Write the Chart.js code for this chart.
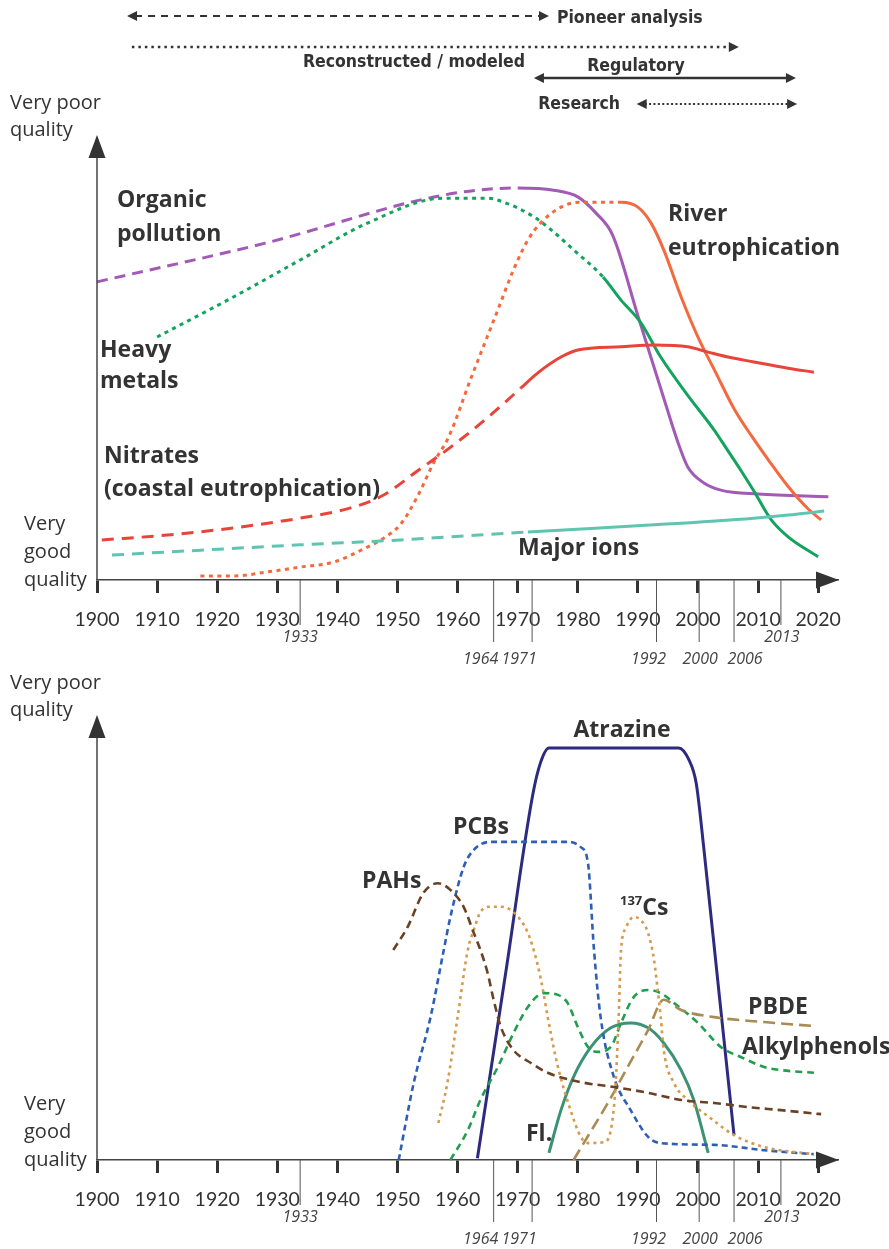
<!DOCTYPE html>
<html>
<head>
<meta charset="utf-8">
<script src="https://cdn.jsdelivr.net/npm/chart.js@4.4.0/dist/chart.umd.min.js"></script>
<style>
  html, body { margin: 0; padding: 0; background: #fff; }
  #wrap { position: relative; width: 889px; height: 1249px; overflow: hidden; }
  .box { position: absolute; left: 0; width: 889px; }
</style>
</head>
<body>
<div id="wrap">
  <div class="box" style="top:0;height:680px"><canvas id="topChart"></canvas></div>
  <div class="box" style="top:580px;height:669px"><canvas id="bottomChart"></canvas></div>
</div>
<script>
// ---------------- axis data ----------------
const tickYears = [1900, 1910, 1920, 1930, 1940, 1950, 1960, 1970, 1980, 1990, 2000, 2010, 2020];
const eventLabels = ['1933', '1964', '1971', '1992', '2000', '2006', '2013'];
const eventYears = [1933.8, 1966, 1972.4, 1993.1, 2000.2, 2006, 2013.8];

// ---------------- periods (top banner) ----------------
const periodNames = ['Pioneer analysis', 'Reconstructed / modeled', 'Regulatory', 'Research'];
const periodStart = [1905, 1905.8, 1972.7, 1989.8];
const periodEnd = [1975.2, 2006.8, 2016.3, 2016.5];

// ---------------- top chart: [year, quality index] ----------------
const organicPollution = [[1900, 67], [1928, 75.7], [1957.7, 86.5], [1970, 88.1], [1976, 87.6], [1980, 86.1],
  [1983, 82.5], [1985.8, 77.5], [1990, 59.4], [1994, 42.2], [1996.7, 30.8], [1998.3, 25.4], [2001, 21.8],
  [2003.8, 20.2], [2010, 19.3], [2021.7, 18.7]];
const heavyMetals = [[1910, 54.6], [1922.7, 63.6], [1933.8, 71.9], [1945, 80.2], [1957.7, 85.8], [1965, 85.8],
  [1967.7, 84.9], [1972.7, 81.6], [1976, 78.2], [1979.3, 74.2], [1984.2, 68.1], [1987.2, 62.9], [1990.5, 57.8],
  [1993.8, 50.1], [1998.3, 41.5], [2002.7, 33.7], [2005, 29], [2007.2, 24.5], [2009.3, 20], [2012.2, 13.5],
  [2015, 9.7], [2020, 5.2]];
const riverEutrophication = [[1917.2, 0.9], [1922.7, 0.9], [1928.3, 1.8], [1933.8, 2.9], [1939.3, 4], [1945, 7.4],
  [1947.7, 9.4], [1950.5, 12.5], [1953.3, 18.7], [1956, 26.3], [1958.5, 32.1], [1962.3, 45.6], [1966.7, 60.7],
  [1969.3, 69.7], [1971.7, 76.4], [1973.8, 80.2], [1977.2, 83.8], [1980.5, 84.9], [1987.2, 84.9], [1990, 83.8],
  [1992.2, 80.2], [1994.3, 74.2], [1997.2, 63.6], [2000, 54.6], [2003, 46.5], [2006, 38.5], [2009, 32.2],
  [2011.7, 27], [2015, 21], [2018.3, 16], [2020.5, 13.5]];
const nitrates = [[1900.8, 9], [1911.7, 10.1], [1922.7, 11.7], [1933.8, 13.9], [1942.2, 16.2], [1947.7, 19.1],
  [1953.3, 24.5], [1958.8, 29.8], [1965, 36.5], [1970.5, 43.1], [1973.3, 46.5], [1977.2, 50.1], [1980, 51.7],
  [1987.2, 52.4], [1992.7, 52.8], [1998.3, 52.4], [2001.7, 51.2], [2005, 50.1], [2009.3, 49], [2015, 47.6],
  [2019.3, 46.7]];
const majorIons = [[1902.5, 5.6], [1917.2, 6.7], [1933.8, 7.9], [1950.5, 9], [1958.8, 9.7], [1971.7, 10.8],
  [1992.7, 12.4], [2009.3, 13.9], [2015, 14.6], [2021, 15.5]];
// first measured year (solid line from here, dashed / dotted before)
const measuredSince = [1970, 1984.2, 1987.2, 1970.5, 1971.7];

// ---------------- bottom chart: micropollutants ----------------
const atrazine = [[1963.3, 0.4], [1968, 42], [1972.5, 82], [1973.8, 89.3], [1975.2, 92.6], [1996.8, 92.6],
  [1998.5, 89.9], [1999.7, 84.7], [2001, 69.7], [2003.5, 37.6], [2006, 5.6]];
const pcbs = [[1950.2, 0], [1952.7, 17.3], [1955.5, 32.1], [1957.7, 47.2], [1958.8, 54.6], [1961, 65.8],
  [1962.7, 69.7], [1965.5, 71.5], [1978.3, 71.5], [1980.5, 70.3], [1981.7, 66.7], [1982.7, 47.2],
  [1983.8, 32.1], [1986, 18.7], [1988.8, 11.2], [1991.7, 5.2], [1993.8, 3.8], [2002.7, 3.4], [2011, 2.2], [2019.3, 1.3]];
const pahs = [[1949.3, 47.2], [1951.7, 52.4], [1954.3, 60], [1956.7, 62.2], [1958.8, 60.7], [1961, 56.9],
  [1962.7, 51], [1963.8, 47.2], [1965, 42], [1966, 36], [1967.2, 29.9], [1969.3, 24.7], [1972.2, 21.8],
  [1975, 19.6], [1980.5, 17.5], [1986, 16.4], [1991.7, 15.1], [1997.2, 13.5], [2002.7, 12.8], [2008.3, 11.9],
  [2013.8, 11.2], [2020.5, 10.3]];
const cs137 = [[1956.8, 8.3], [1958.3, 17.3], [1960, 32.1], [1961.7, 47.2], [1962.7, 51.7], [1963.8, 55.7],
  [1965.5, 56.9], [1967.2, 56.9], [1969.3, 55.7], [1971.7, 51], [1973.3, 44], [1974.3, 37.5], [1975, 32.1],
  [1976.7, 20.9], [1978.8, 11.2], [1980.5, 5.2], [1981.7, 3.8], [1984.3, 4], [1985.5, 6.7], [1986.3, 17],
  [1986.8, 32.1], [1987.2, 47.2], [1988, 52.1], [1989.3, 54.6], [1990.5, 53.9], [1991.7, 51], [1992.7, 44.9],
  [1993.3, 38.2], [1993.8, 32.1], [1994.3, 24.7], [1996, 17.3], [1998.3, 13.5], [2002, 9.5], [2006, 5.6],
  [2011, 2.9], [2019.3, 1.3]];
const alkylphenols = [[1958.8, 0], [1961.7, 6.7], [1963.8, 13.5], [1966.7, 20.9], [1969.3, 28.5], [1971.7, 34.4],
  [1974.3, 37.5], [1976.7, 37.1], [1978.3, 35.3], [1980, 29.9], [1981.7, 25.4], [1983.3, 24.3], [1985.5, 25.4],
  [1987.2, 30.8], [1989.3, 36.6], [1991.7, 38.2], [1993.8, 37.5], [1996, 35.3], [2000, 30.8], [2003.8, 25.4],
  [2007.2, 23.1], [2011, 20.9], [2013.8, 20.2], [2019.3, 19.6]];
const pbde = [[1979.3, 0], [1981.7, 5.4], [1985, 12.8], [1988.3, 20.9], [1991.7, 29.2], [1994.3, 36],
  [1997.2, 33.7], [2002.7, 32.1], [2011, 31], [2019.3, 30.1]];
const fluoranthene = [[1975.2, 1.6], [1977.2, 11.2], [1979.3, 18.7], [1982.2, 25.4], [1985.5, 29.7], [1988.8, 30.8],
  [1991.7, 29.7], [1994.3, 26.3], [1997.2, 20.2], [1999.3, 13.5], [2001.7, 1.6]];

// ---------------- helpers ----------------
const DARK = '#333333';
const BOLD = 'bold 23px "Open Sans", sans-serif';
const REG = '20px "Open Sans", sans-serif';
const COND = 'bold 17.5px "DejaVu Sans Condensed", "Liberation Sans Narrow", sans-serif';

function serie(points, color, dash, width, solidFrom) {
  const ds = {
    data: points.map(p => ({ x: p[0], y: p[1] })),
    borderColor: color,
    borderWidth: width,
    pointRadius: 0,
    cubicInterpolationMode: 'monotone',
    fill: false,
    clip: false,
    borderDash: solidFrom == null ? dash : []
  };
  if (solidFrom != null) {
    ds.segment = { borderDash: c => (c.p1.parsed.x <= solidFrom + 0.01 ? dash : []) };
  }
  return ds;
}

function head(ctx, x, y, dir, len, half) {
  // filled triangle pointing in dir (+1 right, -1 left, 0 up)
  ctx.beginPath();
  if (dir === 0) {
    ctx.moveTo(x, y); ctx.lineTo(x - half, y + len); ctx.lineTo(x + half, y + len);
  } else {
    ctx.moveTo(x, y); ctx.lineTo(x - dir * len, y - half); ctx.lineTo(x - dir * len, y + half);
  }
  ctx.closePath();
  ctx.fill();
}

function text(ctx, str, x, y, font, align) {
  ctx.font = font;
  ctx.textAlign = align || 'left';
  ctx.textBaseline = 'middle';
  ctx.fillText(str, x, y);
}

// axes arrows, event years, names
const labelShift = [0, -13, -13, -8, 1, 11, 1];
const decor = {
  id: 'decor',
  afterDraw(chart, args, opts) {
    const { ctx, chartArea: a } = chart;
    const x = chart.scales.x;
    ctx.save();
    ctx.fillStyle = DARK;
    ctx.strokeStyle = '#444';
    // y axis with arrow
    ctx.lineWidth = 1.5;
    ctx.beginPath(); ctx.moveTo(a.left, a.bottom); ctx.lineTo(a.left, a.top + 12); ctx.stroke();
    head(ctx, a.left, a.top, 0, 23, 8.5);
    // x axis arrow
    head(ctx, a.right + 1, a.bottom, 1, 23, 8.5);

    // event years
    ctx.lineWidth = 1;
    ctx.strokeStyle = '#555';
    ctx.fillStyle = '#444';
    eventYears.forEach((yr, i) => {
      const px = x.getPixelForValue(yr);
      const high = (eventLabels[i] === '1933' || eventLabels[i] === '2013');
      const len = high ? 45 : 62;
      ctx.beginPath(); ctx.moveTo(px, a.bottom); ctx.lineTo(px, a.bottom + len); ctx.stroke();
      text(ctx, eventLabels[i], px + labelShift[i], a.bottom + (high ? 57 : 79),
        'italic 16px "Open Sans", sans-serif', 'center');
    });

    // y axis captions
    ctx.fillStyle = DARK;
    text(ctx, 'Very poor', 10, 103, REG);
    text(ctx, 'quality', 10, 130, REG);
    text(ctx, 'Very', 24, a.bottom - 56, REG);
    text(ctx, 'good', 24, a.bottom - 28, REG);
    text(ctx, 'quality', 24, a.bottom, REG);

    // series names
    (opts.names || []).forEach(n => {
      if (n.sup) {
        text(ctx, n.sup, n.x, n.y - 7, 'bold 13px "Open Sans", sans-serif');
        const w = ctx.measureText(n.sup).width;
        text(ctx, n.t, n.x + w, n.y, BOLD);
      } else {
        text(ctx, n.t, n.x, n.y, BOLD, n.align);
      }
    });

    // periods banner
    if (opts.periods) {
      const px = v => x.getPixelForValue(v);
      const rows = [
        { y: 16, dash: [7, 6], lw: 2.2, left: true },
        { y: 47, dash: [2.5, 4], lw: 2.6, left: false },
        { y: 78, dash: [], lw: 2.6, left: true },
        { y: 104, dash: [2, 2.4], lw: 2, left: true }
      ];
      rows.forEach((r, i) => {
        const x0 = px(periodStart[i]), x1 = px(periodEnd[i]);
        ctx.strokeStyle = DARK; ctx.fillStyle = DARK;
        ctx.lineWidth = r.lw;
        ctx.setLineDash(r.dash);
        ctx.beginPath();
        ctx.moveTo(r.left ? x0 + 8 : x0, r.y); ctx.lineTo(x1 - 8, r.y); ctx.stroke();
        ctx.setLineDash([]);
        head(ctx, x1, r.y, 1, 10, 5);
        if (r.left) head(ctx, x0, r.y, -1, 10, 5);
      });
      ctx.fillStyle = DARK;
      text(ctx, periodNames[0], px(periodEnd[0]) + 8, 18, COND);
      text(ctx, periodNames[1], 525, 62, COND, 'right');
      text(ctx, periodNames[2], 636, 66, COND, 'center');
      text(ctx, periodNames[3], 620, 104, COND, 'right');
    }
    ctx.restore();
  }
};

function makeChart(id, datasets, axisHeight, plug) {
  return new Chart(document.getElementById(id), {
    type: 'line',
    data: { datasets: datasets },
    options: {
      responsive: true,
      maintainAspectRatio: false,
      animation: false,
      events: [],
      layout: { padding: { left: 97, right: 51, top: 135, bottom: 0 } },
      plugins: { legend: { display: false }, tooltip: { enabled: false }, decor: plug },
      scales: {
        x: {
          type: 'linear',
          min: 1900,
          max: 2023.3,
          afterFit: s => { s.height = axisHeight; },
          afterBuildTicks: s => { s.ticks = tickYears.map(v => ({ value: v })); },
          ticks: {
            autoSkip: false, maxRotation: 0, padding: 15, color: DARK,
            font: { family: 'Lato, "Open Sans", sans-serif', size: 19.5 },
            callback: v => String(v)
          },
          grid: { drawOnChartArea: false, drawTicks: true, tickLength: 13, tickWidth: 3, tickColor: '#333' },
          border: { display: true, color: '#444', width: 1.5 }
        },
        y: { display: false, min: 0, max: 100 }
      }
    },
    plugins: [decor]
  });
}

// ---------------- top chart ----------------
makeChart('topChart', [
  serie(majorIons, '#5fc5b0', [12, 8], 3, measuredSince[4]),
  serie(nitrates, '#e9443a', [12, 8], 3, measuredSince[3]),
  serie(riverEutrophication, '#f26a3d', [4, 4.5], 3, measuredSince[2]),
  serie(heavyMetals, '#12a35c', [4, 4.5], 3, measuredSince[1]),
  serie(organicPollution, '#a25ab6', [11, 7], 3, measuredSince[0])
], 100, {
  periods: true,
  names: [
    { t: 'Organic', x: 117, y: 200 }, { t: 'pollution', x: 117, y: 234 },
    { t: 'Heavy', x: 100, y: 350 }, { t: 'metals', x: 100, y: 381 },
    { t: 'Nitrates', x: 104, y: 456 }, { t: '(coastal eutrophication)', x: 104, y: 489 },
    { t: 'River', x: 668, y: 214 }, { t: 'eutrophication', x: 668, y: 248 },
    { t: 'Major ions', x: 518, y: 548 }
  ]
});

// ---------------- bottom chart ----------------
makeChart('bottomChart', [
  serie(pahs, '#6b4124', [8, 5], 2.6),
  serie(cs137, '#d59a4f', [3, 4], 2.6),
  serie(pbde, '#a88b55', [12, 6], 2.6),
  serie(alkylphenols, '#1f9e4d', [7, 5], 2.6),
  serie(pcbs, '#2f5fb5', [6, 4], 2.6),
  serie(fluoranthene, '#3c9275', [], 3),
  serie(atrazine, '#2d2b7f', [], 3)
], 89, {
  names: [
    { t: 'Atrazine', x: 622, y: 150, align: 'center' },
    { t: 'PCBs', x: 453, y: 247 },
    { t: 'PAHs', x: 362, y: 301 },
    { t: 'Cs', sup: '137', x: 620, y: 328 },
    { t: 'PBDE', x: 748, y: 427 },
    { t: 'Alkylphenols', x: 742, y: 467 },
    { t: 'Fl.', x: 526, y: 554 }
  ]
});
</script>
</body>
</html>
